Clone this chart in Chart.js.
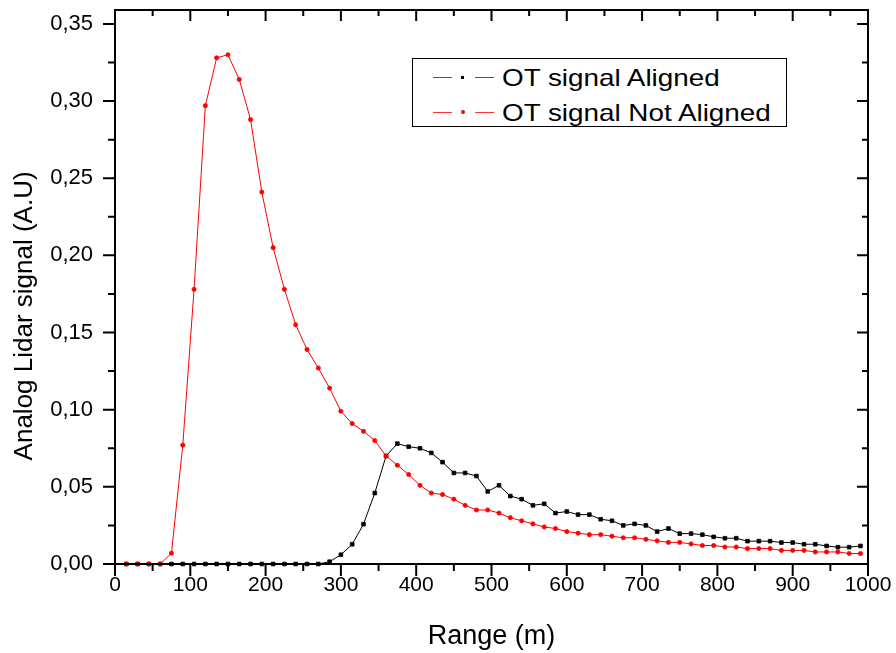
<!DOCTYPE html>
<html>
<head>
<meta charset="utf-8">
<script src="https://cdn.jsdelivr.net/npm/chart.js@4.4.1/dist/chart.umd.min.js"></script>
<style>
  html, body { margin: 0; padding: 0; background: #fff; }
  #wrap { position: relative; width: 896px; height: 653px; }
  #legend { position: absolute; left: 412px; top: 58px; width: 373px; height: 67px; border: 1.5px solid #000; background: #fff;
            font-family: "Liberation Sans", Arial, sans-serif; font-size: 24px; color: #000; }
  .row { position: absolute; left: 0; height: 30px; width: 100%; }
  .dash { position: absolute; top: 14px; width: 19px; height: 1px; }
  .dot { position: absolute; }
  .lbl { position: absolute; left: 89px; top: 1px; line-height: 28px; white-space: nowrap; transform: scaleX(1.16); transform-origin: left center; }
</style>
</head>
<body>
<div id="wrap">
  <canvas id="chart" width="896" height="653"></canvas>
  <div id="legend">
    <div class="row" style="top:4px">
      <span class="dash" style="left:20px;background:#555"></span>
      <span class="dot" style="left:48px;top:13px;width:3px;height:3px;background:#000"></span>
      <span class="dash" style="left:62px;background:#555"></span>
      <span class="lbl">OT signal Aligned</span>
    </div>
    <div class="row" style="top:39px">
      <span class="dash" style="left:20px;background:#f33"></span>
      <span class="dot" style="left:48px;top:12px;width:4px;height:4px;border-radius:50%;background:#f00"></span>
      <span class="dash" style="left:62px;background:#f33"></span>
      <span class="lbl">OT signal Not Aligned</span>
    </div>
  </div>
</div>
<script>
(function () {
'use strict';
// range bins (m), same for both signals
const rangeM = [15, 30, 45, 60, 75, 90, 105, 120, 135, 150, 165, 180, 195, 210, 225, 240, 255, 270, 285, 300,
    315, 330, 345, 360, 375, 390, 405, 420, 435, 450, 465, 480, 495, 510, 525, 540, 555, 570, 585, 600,
    615, 630, 645, 660, 675, 690, 705, 720, 735, 750, 765, 780, 795, 810, 825, 840, 855, 870, 885, 900,
    915, 930, 945, 960, 975, 990];
const aligned = [0, 0, 0, 0, 0, 0, 0, 0, 0, 0, 0, 0, 0, 0, 0, 0, 0, 0, 0.0015, 0.006,
    0.0128, 0.0258, 0.046, 0.070, 0.078, 0.076, 0.075, 0.072, 0.066, 0.059, 0.059, 0.057, 0.047, 0.051, 0.044, 0.042, 0.038, 0.039, 0.033, 0.034,
    0.032, 0.032, 0.029, 0.028, 0.025, 0.026, 0.025, 0.021, 0.023, 0.0197, 0.0197, 0.019, 0.0176, 0.0167, 0.0167, 0.0148, 0.0148, 0.0148, 0.0139, 0.0139,
    0.0128, 0.0128, 0.0117, 0.0109, 0.0109, 0.0117];
const notAligned = [0, 0, 0, 0, 0.007, 0.077, 0.178, 0.297, 0.328, 0.330, 0.314, 0.288, 0.241, 0.205, 0.178, 0.155, 0.139, 0.127, 0.114, 0.099,
    0.091, 0.086, 0.080, 0.070, 0.064, 0.058, 0.051, 0.046, 0.045, 0.042, 0.038, 0.035, 0.035, 0.033, 0.030, 0.028, 0.026, 0.024, 0.023, 0.021,
    0.020, 0.019, 0.019, 0.018, 0.017, 0.017, 0.016, 0.015, 0.014, 0.014, 0.013, 0.012, 0.012, 0.011, 0.011, 0.010, 0.010, 0.010, 0.0088, 0.0088,
    0.0088, 0.0078, 0.0078, 0.0078, 0.0068, 0.0068];
const xTicks = [0, 100, 200, 300, 400, 500, 600, 700, 800, 900, 1000];
const yTicks = [0, 0.05, 0.10, 0.15, 0.20, 0.25, 0.30, 0.35];

const FONT = '"Liberation Sans", Arial, sans-serif';

// frame + Origin-style ticks (major/minor, mirrored inward on top/right)
const frameTicks = {
    id: 'frameTicks',
    afterDraw(chart) {
        const { ctx, chartArea: a, scales: { x, y } } = chart;
        ctx.save();
        ctx.strokeStyle = '#000';
        ctx.lineWidth = 2;
        ctx.strokeRect(a.left, a.top, a.right - a.left, a.bottom - a.top);
        ctx.beginPath();
        xTicks.forEach((v, i) => {
            const px = x.getPixelForValue(v);
            ctx.moveTo(px, a.bottom); ctx.lineTo(px, a.bottom + 12);
            ctx.moveTo(px, a.top); ctx.lineTo(px, a.top + 11);
            if (i < xTicks.length - 1) {
                const pm = x.getPixelForValue((v + xTicks[i + 1]) / 2);
                ctx.moveTo(pm, a.bottom); ctx.lineTo(pm, a.bottom + 7);
                ctx.moveTo(pm, a.top); ctx.lineTo(pm, a.top + 6);
            }
        });
        yTicks.forEach((v, i) => {
            const py = y.getPixelForValue(v);
            ctx.moveTo(a.left, py); ctx.lineTo(a.left - 12, py);
            ctx.moveTo(a.right, py); ctx.lineTo(a.right - 11, py);
            if (i < yTicks.length - 1) {
                const pm = y.getPixelForValue((v + yTicks[i + 1]) / 2);
                ctx.moveTo(a.left, pm); ctx.lineTo(a.left - 7, pm);
                ctx.moveTo(a.right, pm); ctx.lineTo(a.right - 6, pm);
            }
        });
        ctx.stroke();
        ctx.restore();
    }
};

function build() {
    const ctx = document.getElementById('chart').getContext('2d');
    new Chart(ctx, {
        type: 'scatter',
        data: {
            datasets: [
                { label: 'OT signal Aligned', data: rangeM.map((r, i) => ({ x: r, y: aligned[i] })),
                  showLine: true, borderColor: '#000', backgroundColor: '#000', borderWidth: 1,
                  pointStyle: 'rect', pointRadius: 2.6, pointBorderWidth: 0.8, clip: false, order: 1 },
                { label: 'OT signal Not Aligned', data: rangeM.map((r, i) => ({ x: r, y: notAligned[i] })),
                  showLine: true, borderColor: '#ff0000', backgroundColor: '#ff0000', borderWidth: 1,
                  pointStyle: 'circle', pointRadius: 2.1, pointBorderWidth: 0.8, clip: false, order: 0 }
            ]
        },
        options: {
            responsive: false, animation: false, devicePixelRatio: 1,
            layout: { padding: { left: 0, top: 10, right: 28, bottom: 0 } },
            plugins: { legend: { display: false }, tooltip: { enabled: false } },
            scales: {
                x: {
                    type: 'linear', min: 0, max: 1000,
                    grid: { display: false }, border: { display: false },
                    afterBuildTicks: s => { s.ticks = xTicks.map(v => ({ value: v })); },
                    afterFit: s => { s.height = 89; s.paddingLeft = 0; s.paddingRight = 0; },
                    ticks: { color: '#000', padding: 1, maxRotation: 0, font: { family: FONT, size: 21 }, callback: v => String(v) },
                    title: { display: true, text: 'Range (m)', color: '#000', padding: { top: 0, bottom: 0 }, font: { family: FONT, size: 27 } }
                },
                y: {
                    min: 0, max: 0.359,
                    grid: { display: false }, border: { display: false },
                    afterBuildTicks: s => { s.ticks = yTicks.map(v => ({ value: v })); },
                    afterFit: s => { s.width = 115; s.paddingTop = 0; s.paddingBottom = 0; },
                    ticks: { color: '#000', padding: 14, font: { family: FONT, size: 22 }, callback: v => v.toFixed(2).replace('.', ',') },
                    // trailing spaces nudge the centred title down a little, as in the original
                    title: { display: true, text: 'Analog Lidar signal (A.U)        ', color: '#000', padding: { top: 9, bottom: 0 }, font: { family: FONT, size: 26 } }
                }
            }
        },
        plugins: [frameTicks]
    });
}
if (document.readyState === 'loading') document.addEventListener('DOMContentLoaded', build); else build();
})();
</script>
</body>
</html>
